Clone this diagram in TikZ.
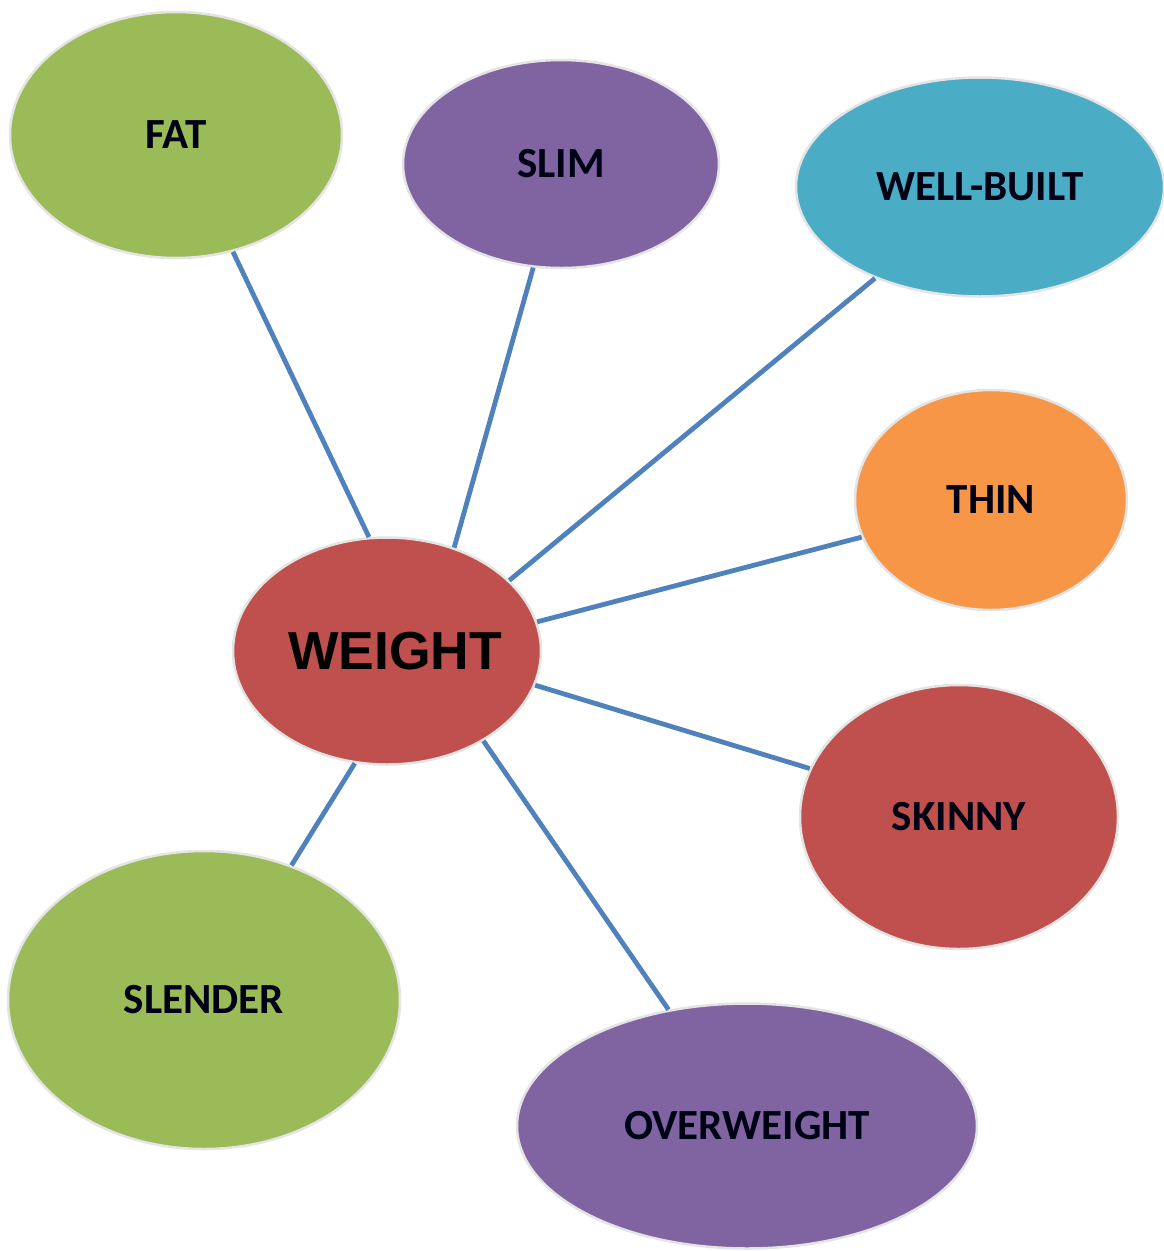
\documentclass[tikz,border=0pt]{standalone}
\usepackage{fontspec}
\setmainfont{Carlito}
\newfontfamily\arialfont{Liberation Sans}
\usetikzlibrary{shapes.geometric}
\definecolor{cgreen}{HTML}{9BBB59}
\definecolor{cpurple}{HTML}{8064A2}
\definecolor{cblue}{HTML}{4BACC6}
\definecolor{corange}{HTML}{F79646}
\definecolor{cred}{HTML}{C0504D}
\definecolor{cline}{HTML}{4F81BD}
\definecolor{crim}{HTML}{E4E4E4}
\tikzset{
  bubble/.style={ellipse, inner sep=0pt, draw=crim, line width=2.5pt,
    font=\fontsize{43}{46}\selectfont\bfseries, text=black!92!blue},
  link/.style={draw=cline, line width=4.8pt}
}
\begin{document}
\begin{tikzpicture}[x=1pt,y=-1pt]
\useasboundingbox (0,0) rectangle (1163,1251);
\node[bubble, fill=cgreen, minimum width=332pt, minimum height=246pt] (fat) at (176,135) {FAT};
\node[bubble, fill=cpurple, minimum width=316pt, minimum height=208pt] (slim) at (561,164) {SLIM};
\node[bubble, fill=cblue, minimum width=368pt, minimum height=219pt] (well) at (980,187) {WELL-BUILT};
\node[bubble, fill=corange, minimum width=272pt, minimum height=220pt] (thin) at (991,500) {THIN};
\node[bubble, fill=cred, minimum width=308pt, minimum height=227pt, font=\arialfont\fontsize{53.5}{57}\selectfont\bfseries, text=black] (weight) at (387,651) {\makebox[0pt]{\hspace*{16pt}WEIGHT}};
\node[bubble, fill=cred, minimum width=318pt, minimum height=264pt] (skinny) at (959,817) {SKINNY};
\node[bubble, fill=cgreen, minimum width=392pt, minimum height=298pt] (slender) at (204,1000) {SLENDER};
\node[bubble, fill=cpurple, minimum width=460pt, minimum height=245pt] (over) at (747,1126) {OVERWEIGHT};
\draw[link] (fat.-64) -- (weight.99);
\draw[link] (slim.-105.6) -- (weight.57.2);
\draw[link] (well.-139.3) -- (weight.30.5);
\draw[link] (thin.-164.9) -- (weight.11.5);
\draw[link] (skinny.162.7) -- (weight.-13.9);
\draw[link] (over.124.1) -- (weight.-43.5);
\draw[link] (slender.57.4) -- (weight.-106.6);
\end{tikzpicture}
\end{document}
